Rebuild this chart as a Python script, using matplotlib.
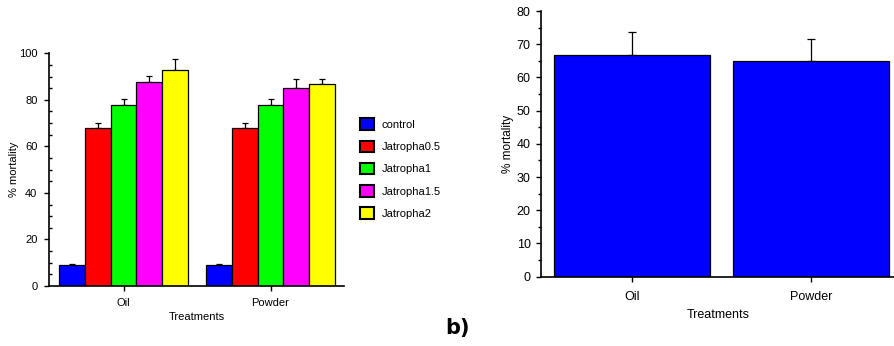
import matplotlib
matplotlib.use("Agg")
import matplotlib.pyplot as plt
from matplotlib.ticker import MultipleLocator
import numpy as np

plt.rcParams['font.family'] = ['Liberation Sans', 'DejaVu Sans']

# ---- data ----
groups = ["Oil", "Powder"]
series = ["control", "Jatropha0.5", "Jatropha1", "Jatropha1.5", "Jatropha2"]
colors = ["#0000FF", "#FF0000", "#00FF00", "#FF00FF", "#FFFF00"]
oil_vals = [9.0, 67.9, 77.8, 87.7, 93.0]
oil_err = [0.6, 2.3, 2.7, 2.7, 4.6]
powder_vals = [9.0, 67.9, 77.8, 85.1, 86.7]
powder_err = [0.6, 2.3, 2.7, 3.7, 2.1]

b_groups = ["Oil", "Powder"]
b_vals = [66.8, 64.9]
b_err = [7.0, 6.8]

W, H = 895, 346
fig = plt.figure(figsize=(W / 100, H / 100), dpi=100)

# ---- left chart ----
ax1 = fig.add_axes([49.3 / W, 1 - 286 / H, 294.7 / W, (286 - 53.3) / H])
bw = 0.1748
x = np.arange(len(groups))
for i, (name, c) in enumerate(zip(series, colors)):
    vals = [oil_vals[i], powder_vals[i]]
    errs = [oil_err[i], powder_err[i]]
    pos = x + (i - 2) * bw
    ax1.bar(pos, vals, width=bw, color=c, edgecolor="black", linewidth=0.9,
            label=name, zorder=2)
    ax1.errorbar(pos, vals, yerr=[np.zeros(2), errs], fmt="none", ecolor="black",
                 elinewidth=0.9, capsize=2.5, capthick=0.9, zorder=1)
ax1.set_xlim(-0.505, 1.5)
ax1.set_ylim(0, 100)
ax1.set_xticks(x)
ax1.set_xticklabels(groups)
ax1.yaxis.set_major_locator(MultipleLocator(20))
ax1.yaxis.set_minor_locator(MultipleLocator(5))
ax1.tick_params(axis="both", which="major", direction="out", length=3.5, width=1,
                labelsize=8, pad=5)
ax1.tick_params(axis="y", which="minor", direction="in", length=2, width=1)
for s in ["top", "right"]:
    ax1.spines[s].set_visible(False)
for s in ["left", "bottom"]:
    ax1.spines[s].set_linewidth(1.2)
ax1.set_ylabel("% mortality", fontsize=8, labelpad=0)
ax1.set_xlabel("Treatments", fontsize=8, labelpad=3)

leg = ax1.legend(loc="upper left", bbox_to_anchor=(356 / W, 1 - 114 / H),
                 bbox_transform=fig.transFigure, frameon=False, fontsize=8,
                 handlelength=1.2, handleheight=1.2, handletextpad=0.7,
                 labelspacing=0.97, borderaxespad=0)
for p in leg.get_patches():
    p.set_linewidth(1.5)

# ---- right chart ----
ax2 = fig.add_axes([541 / W, 1 - 276.7 / H, 354 / W, (276.7 - 11) / H])
xb = np.arange(len(b_groups))
ax2.bar(xb, b_vals, width=0.8715, color="#0000FF", edgecolor="black",
        linewidth=0.9, zorder=2)
ax2.errorbar(xb, b_vals, yerr=[np.zeros(2), b_err], fmt="none", ecolor="black",
             elinewidth=0.9, capsize=3, capthick=0.9, zorder=1)
ax2.set_xlim(-0.508, 1.469)
ax2.set_ylim(0, 80)
ax2.set_xticks(xb)
ax2.set_xticklabels(b_groups)
ax2.yaxis.set_major_locator(MultipleLocator(10))
ax2.yaxis.set_minor_locator(MultipleLocator(5))
ax2.tick_params(axis="both", which="major", direction="out", length=3.5, width=1,
                labelsize=9, pad=4)
ax2.tick_params(axis="x", which="major", pad=7)
ax2.tick_params(axis="y", which="minor", direction="out", length=2, width=1)
for s in ["top", "right"]:
    ax2.spines[s].set_visible(False)
for s in ["left", "bottom"]:
    ax2.spines[s].set_linewidth(1.2)
ax2.set_ylabel("% mortality", fontsize=8.5, labelpad=1.5)
ax2.set_xlabel("Treatments", fontsize=9, labelpad=4)

fig.text(458 / W, 1 - 328 / H, "b)", fontsize=15, fontweight="bold",
         family="DejaVu Sans", ha="center", va="center")

fig.savefig("out.png", dpi=100)
